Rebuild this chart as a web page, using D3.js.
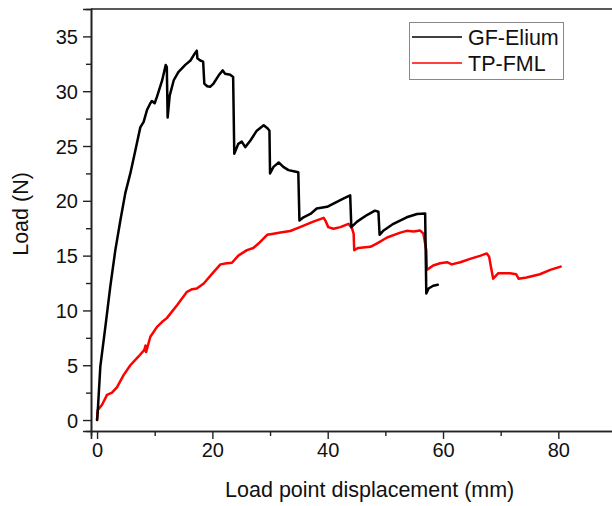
<!DOCTYPE html>
<html>
<head>
<meta charset="utf-8">
<script src="https://cdn.jsdelivr.net/npm/d3@7"></script>
<style>
  html, body { margin: 0; padding: 0; background: #fff; }
  svg { display: block; font-family: "Liberation Sans", Arial, sans-serif; }
</style>
</head>
<body>
<svg id="chart" width="612" height="506"></svg>
<script>
// Load–displacement curves (displacement in mm, load in N)
const gfEliumX = [0, 0.1, 0.57, 1.44, 2.3, 3.17, 4.04, 4.9, 5.77, 6.64, 7.5, 8.08, 8.67, 9.24, 9.5, 9.99, 10.4, 11.3, 11.9, 12.1, 12.24, 12.6, 13.3, 14.1, 15.3, 16.2, 16.9, 17.3, 17.4, 17.9, 18.4, 18.6, 19.1, 19.6, 20.2, 21.1, 21.8, 22.2, 23.1, 23.6, 23.8, 24.5, 25.1, 25.7, 26.6, 27.7, 28.9, 29.6, 29.9, 30.0, 30.6, 31.5, 32.3, 33.2, 34.1, 34.9, 35.1, 35.8, 37.0, 38.1, 39.9, 41.0, 42.7, 43.9, 44.1, 45.1, 46.8, 48.2, 48.8, 49.0, 49.7, 51.4, 53.7, 55.5, 56.9, 57.1, 57.5, 58.3, 59.1];
const gfEliumY = [0, 0.6, 4.9, 8.5, 12.2, 15.5, 18.2, 20.7, 22.5, 24.6, 26.7, 27.2, 28.3, 28.9, 29.1, 28.9, 29.5, 31.0, 32.4, 32.2, 27.6, 29.6, 31.0, 31.75, 32.4, 32.8, 33.4, 33.7, 33.0, 32.8, 32.7, 30.7, 30.45, 30.4, 30.7, 31.45, 31.9, 31.6, 31.5, 31.3, 24.3, 25.2, 25.4, 24.9, 25.5, 26.4, 26.9, 26.6, 26.4, 22.5, 23.1, 23.5, 23.1, 22.8, 22.7, 22.6, 18.2, 18.5, 18.8, 19.3, 19.45, 19.75, 20.2, 20.5, 17.6, 18.1, 18.7, 19.1, 19.0, 16.9, 17.3, 17.9, 18.5, 18.8, 18.85, 11.55, 12.0, 12.25, 12.35];

const tpFmlX = [0, 0.1, 0.87, 1.73, 2.6, 3.47, 4.6, 5.77, 7.2, 8.2, 8.4, 8.5, 9.24, 10.4, 11.3, 12.1, 13.9, 15.6, 16.5, 17.3, 18.5, 20.2, 21.4, 22.5, 23.4, 24.5, 26.0, 27.1, 28.0, 29.5, 30.6, 31.8, 33.5, 35.2, 37.5, 39.3, 39.6, 40.1, 41.0, 42.2, 43.6, 44.2, 44.5, 44.6, 45.3, 47.4, 48.5, 50.3, 52.6, 53.7, 54.9, 56.0, 56.6, 57.1, 57.2, 58.3, 59.5, 60.7, 61.5, 63.0, 64.7, 66.4, 67.6, 68.0, 68.3, 68.7, 69.6, 71.6, 72.7, 73.1, 74.5, 76.8, 78.6, 80.4];
const tpFmlY = [0, 0.9, 1.4, 2.3, 2.5, 3.0, 4.1, 5.0, 5.8, 6.4, 6.8, 6.2, 7.6, 8.5, 8.96, 9.3, 10.5, 11.7, 11.94, 12.0, 12.46, 13.5, 14.2, 14.3, 14.35, 15.0, 15.5, 15.7, 16.1, 16.9, 17.0, 17.1, 17.25, 17.6, 18.1, 18.45, 18.2, 17.6, 17.45, 17.6, 17.9, 17.5, 17.0, 15.5, 15.7, 15.8, 16.1, 16.65, 17.1, 17.26, 17.2, 17.3, 17.0, 15.5, 13.7, 14.1, 14.3, 14.4, 14.2, 14.4, 14.7, 14.98, 15.2, 14.9, 14.0, 12.9, 13.4, 13.4, 13.3, 12.9, 13.0, 13.3, 13.7, 14.0];

const seriesNames = ["GF-Elium", "TP-FML"];
const seriesColors = ["#000000", "#ff0000"];

const xTicks = [0, 20, 40, 60, 80];
const xMinorTicks = [10, 30, 50, 70];
const yTicks = [0, 5, 10, 15, 20, 25, 30, 35];
const yMinorTicks = [2.5, 7.5, 12.5, 17.5, 22.5, 27.5, 32.5];

const svg = d3.select("#chart");
const plotLeft = 91, plotRight = 616, plotTop = 9, plotBottom = 431;

const x = d3.scaleLinear().domain([-1.05, 90]).range([plotLeft, plotRight]);
const y = d3.scaleLinear().domain([-1.0, 37.5]).range([plotBottom, plotTop]);

const axisColor = "#222";

// Minor ticks
const gxMinor = svg.append("g").attr("transform", `translate(0,${plotBottom})`)
  .call(d3.axisBottom(x).tickValues(xMinorTicks).tickSize(5).tickFormat(""));
const gyMinor = svg.append("g").attr("transform", `translate(${plotLeft},0)`)
  .call(d3.axisLeft(y).tickValues(yMinorTicks).tickSize(5).tickFormat(""));

// Major ticks with labels
const gx = svg.append("g").attr("transform", `translate(0,${plotBottom})`)
  .call(d3.axisBottom(x).tickValues(xTicks).tickSize(8).tickPadding(4).tickFormat(d3.format("d")));
const gy = svg.append("g").attr("transform", `translate(${plotLeft},0)`)
  .call(d3.axisLeft(y).tickValues(yTicks).tickSize(8).tickPadding(5).tickFormat(d3.format("d")));

[gxMinor, gyMinor, gx, gy].forEach(g => {
  g.select(".domain").attr("stroke", axisColor).attr("stroke-width", 1.6);
  g.selectAll(".tick line").attr("stroke", axisColor).attr("stroke-width", 1.4);
  g.selectAll(".tick text").attr("fill", "#111").style("font-size", "20px")
    .style("font-family", "'Liberation Sans', Arial, sans-serif");
});
gy.selectAll(".tick text").attr("dy", "0.35em");

// Top border of the frame
svg.append("line")
  .attr("x1", plotLeft).attr("x2", plotRight).attr("y1", plotTop).attr("y2", plotTop)
  .attr("stroke", axisColor).attr("stroke-width", 1.6);

// Axis titles
svg.append("text")
  .attr("x", (x(0) + x(80)) / 2 + 42).attr("y", 497)
  .attr("text-anchor", "middle").attr("fill", "#111")
  .style("font-size", "21.5px")
  .text("Load point displacement (mm)");

svg.append("text")
  .attr("transform", `translate(28,${y(18.8)}) rotate(-90)`)
  .attr("text-anchor", "middle").attr("fill", "#111")
  .style("font-size", "21.5px")
  .text("Load (N)");

// Curves
const line = d3.line().x(d => x(d[0])).y(d => y(d[1]));
const curves = [
  d3.zip(gfEliumX, gfEliumY),
  d3.zip(tpFmlX, tpFmlY)
];
// Draw red first so black sits on top where they meet
[1, 0].forEach(i => {
  svg.append("path")
    .datum(curves[i])
    .attr("d", line)
    .attr("fill", "none")
    .attr("stroke", seriesColors[i])
    .attr("stroke-width", 2.5)
    .attr("stroke-linejoin", "round")
    .attr("stroke-linecap", "round");
});

// Legend
const lg = svg.append("g");
lg.append("rect")
  .attr("x", 409.5).attr("y", 22.5).attr("width", 154).attr("height", 57)
  .attr("fill", "#fff").attr("stroke", "#888").attr("stroke-width", 1);
seriesNames.forEach((name, i) => {
  const ly = 37 + i * 26;
  lg.append("line")
    .attr("x1", 412).attr("x2", 462).attr("y1", ly).attr("y2", ly)
    .attr("stroke", seriesColors[i]).attr("stroke-width", 1.6);
  lg.append("text")
    .attr("x", 468).attr("y", ly + 7.5)
    .attr("fill", "#111").style("font-size", "21.5px")
    .text(name);
});
</script>
</body>
</html>
